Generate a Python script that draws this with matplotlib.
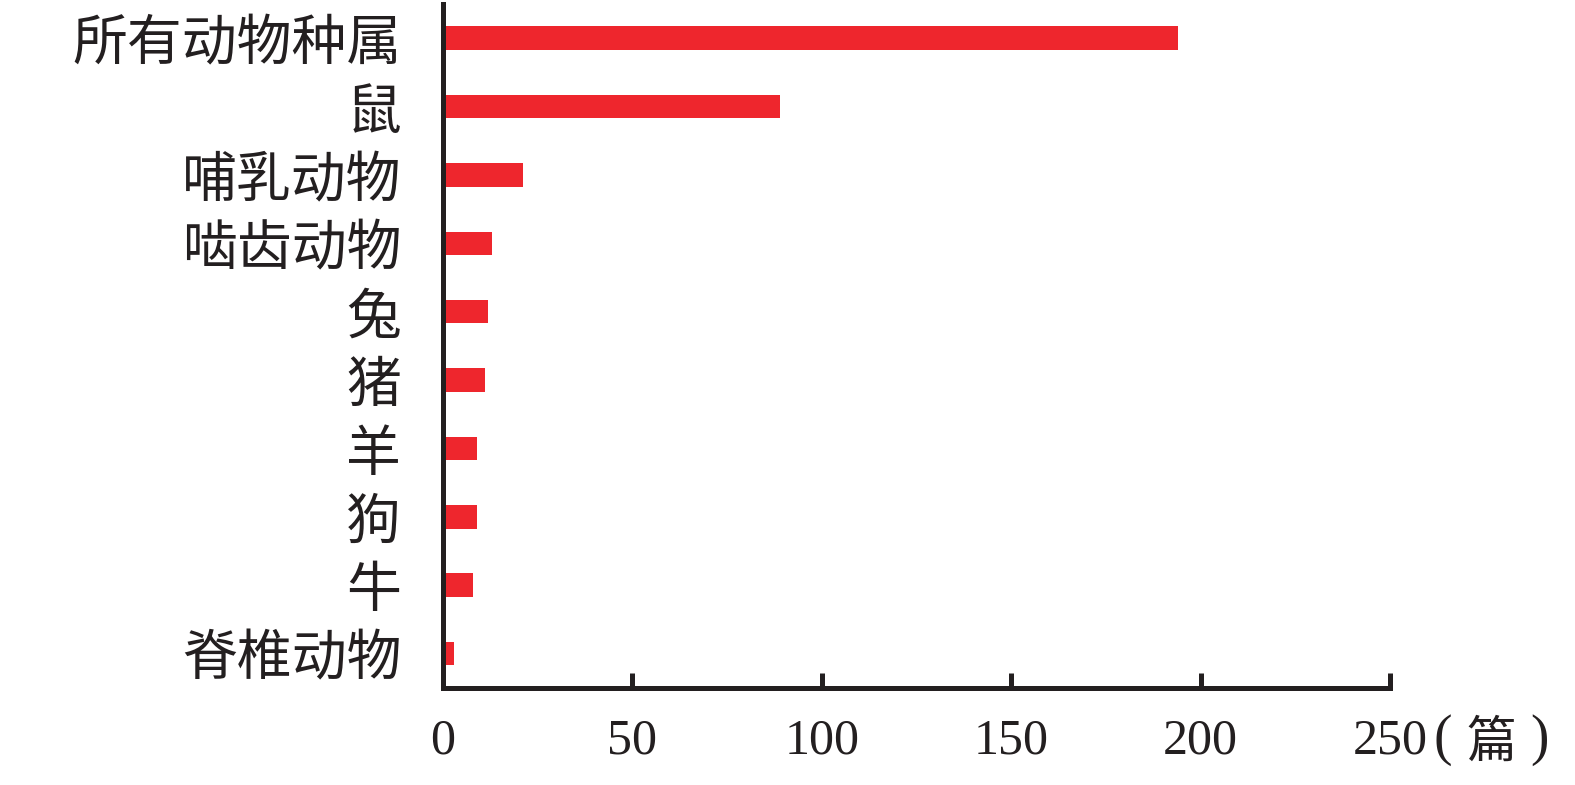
import matplotlib
matplotlib.use("Agg")
import matplotlib.pyplot as plt

categories = ["所有动物种属", "鼠", "哺乳动物", "啮齿动物", "兔", "猪", "羊", "狗", "牛", "脊椎动物"]
values = [194, 89, 21, 13, 12, 11, 9, 9, 8, 3]
xticks = [0, 50, 100, 150, 200, 250]
unit_parts = ["(", "篇", ")"]

DPI = 100
fig = plt.figure(figsize=(15.75, 7.85), dpi=DPI)
W, H = 1575, 785
ax = fig.add_axes([443 / W, 1 - 687.7 / H, (1390 - 443) / W, (687.7 - 4) / H])

n = len(categories)
ypos = [n - 1 - i for i in range(n)]
red = "#EE262D"
dark = "#231F20"
ax.barh(ypos, values, height=0.345, color=red, edgecolor="none", zorder=1)

ax.set_xlim(0, 250)
ax.set_ylim(-0.5, n - 0.5)

for s in ["top", "right"]:
    ax.spines[s].set_visible(False)
for s in ["left", "bottom"]:
    ax.spines[s].set_linewidth(3.6)
    ax.spines[s].set_color(dark)
    ax.spines[s].set_capstyle("projecting")

ax.set_xticks(xticks)
ax.set_xticklabels([str(t) for t in xticks], family=["Liberation Serif"], fontsize=36, color=dark)
ax.tick_params(axis="x", direction="in", length=11, width=3.6, color=dark, pad=22)

ax.set_yticks(ypos)
ax.set_yticklabels(categories, family=["Noto Sans CJK SC"], fontsize=39.5, color=dark)
ax.tick_params(axis="y", length=0, pad=30)

yc = 1 - 740 / H
fig.text(1443 / W, yc, unit_parts[0], family=["Liberation Serif"], fontsize=40,
         color=dark, ha="center", va="center")
fig.text(1491 / W, 1 - 743 / H, unit_parts[1], family=["Noto Sans CJK SC"], fontsize=36,
         color=dark, ha="center", va="center")
fig.text(1539 / W, yc, unit_parts[2], family=["Liberation Serif"], fontsize=40,
         color=dark, ha="center", va="center")

fig.savefig("out.png", dpi=DPI, facecolor="white")
